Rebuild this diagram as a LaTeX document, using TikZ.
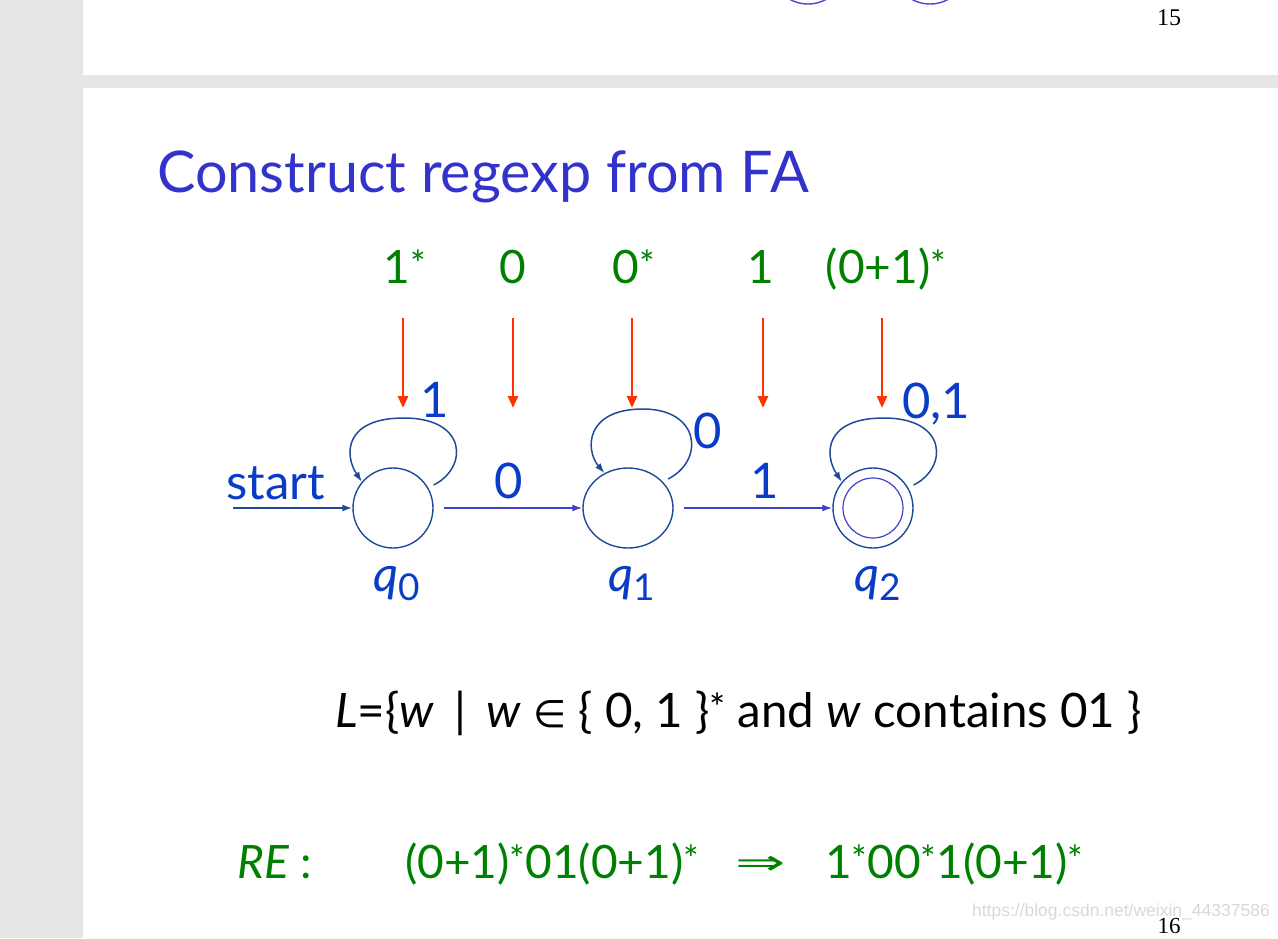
\documentclass[tikz,border=0pt]{standalone}
\usepackage{fontspec}
\setmainfont{Lato}
\newfontfamily\serifnum{Liberation Serif}
\newfontfamily\wmfont{Liberation Sans}
\newfontfamily\symfnt{DejaVu Sans}
\usetikzlibrary{arrows.meta,shapes.geometric}
\definecolor{pagegray}{HTML}{E6E6E6}
\definecolor{titleblue}{HTML}{3333CC}
\definecolor{lblblue}{HTML}{0A3CC8}
\definecolor{navy}{HTML}{1F4A9A}
\definecolor{transblue}{HTML}{4040C8}
\definecolor{regreen}{HTML}{008000}
\definecolor{arrred}{HTML}{FF3300}
\definecolor{wmgray}{HTML}{D8D8D8}
\newcommand{\sta}{\raisebox{0.12em}{\scalebox{0.8}{*}}}
\newcommand{\qsub}[1]{\textit{q}\raisebox{-0.2em}{\fontsize{37}{40}\selectfont #1}}
\tikzset{
  statebox/.style={draw=navy, line width=1.4pt, circle, minimum size=80pt, inner sep=0pt},
  innerbox/.style={draw=transblue, line width=1.2pt, circle, minimum size=60pt, inner sep=0pt},
  trans/.style={draw=transblue, line width=1.6pt, shorten <=10pt, -{Latex[length=10pt,width=7pt]}},
  startarr/.style={draw=navy, line width=1.8pt, -{Latex[length=10pt,width=7pt]}},
  selfloop/.style={draw=navy, line width=1.5pt, shorten <=6pt, -{Latex[length=10pt,width=7pt]}},
  redarr/.style={draw=arrred, line width=2.6pt, -{Triangle[length=12pt,width=10pt]}},
  lbl/.style={text=lblblue, font=\fontsize{49}{52}\selectfont, inner sep=0pt, anchor=base},
  grn/.style={text=regreen, font=\fontsize{46}{50}\selectfont, inner sep=0pt, anchor=base},
}
\begin{document}
\begin{tikzpicture}[x=1pt,y=-1pt]
\useasboundingbox (0,0) rectangle (1278,938);
\clip (0,0) rectangle (1278,938);
% page background
\fill[pagegray] (0,0) rectangle (83,938);
\fill[pagegray] (0,75) rectangle (1278,88);
% remnants of previous slide
\begin{scope}
\clip (83,0) rectangle (1278,75);
\draw[titleblue!90, line width=1.4pt] (808,-34) circle (38);
\draw[titleblue!90, line width=1.4pt] (930,-34) circle (38);
\end{scope}
\node[font=\serifnum\fontsize{24}{26}\selectfont, anchor=base, inner sep=0pt] (p15) at (1169,25) {15};
% title
\node[text=titleblue, font=\fontsize{57.5}{62}\selectfont, anchor=base west, inner sep=0pt] (title) at (157,192) {Construct regexp from FA};
% green labels
\node[grn] (g1) at (405,283) {1\sta};
\node[grn] (g2) at (513,283) {0};
\node[grn] (g3) at (634,283) {0\sta};
\node[grn] (g4) at (761,283) {1};
\node[grn] (g5) at (886,283) {(0+1)\sta};
% red arrows
\coordinate (r1s) at (403,318); \coordinate (r1e) at (403,408);
\coordinate (r2s) at (513,318); \coordinate (r2e) at (513,408);
\coordinate (r3s) at (632,318); \coordinate (r3e) at (632,408);
\coordinate (r4s) at (763,318); \coordinate (r4e) at (763,408);
\coordinate (r5s) at (882,318); \coordinate (r5e) at (882,408);
\draw[redarr] (r1s) -- (r1e);
\draw[redarr] (r2s) -- (r2e);
\draw[redarr] (r3s) -- (r3e);
\draw[redarr] (r4s) -- (r4e);
\draw[redarr] (r5s) -- (r5e);
% states
\node[statebox] (q0) at (393,508) {};
\node[statebox, ellipse, minimum width=90pt, minimum height=80pt] (q1) at (628,508) {};
\node[statebox] (q2) at (873,508) {};
\node[innerbox] (q2in) at (873,508) {};
% start
\coordinate (s) at (233,508);
\draw[startarr] (s) -- (q0);
\node[lbl, anchor=base west] (startlbl) at (226,499) {start};
% transitions
\draw[trans] (q0) -- (q1);
\draw[trans] (q1) -- (q2);
\node[lbl] (l01) at (509,498) {0};
\node[lbl] (l12) at (765,498) {1};
% self loops
\coordinate (t0) at (404,418);
\draw[selfloop] (q0.30) .. controls (468,468) and (468,418) .. (t0) .. controls (344,418) and (344,455) .. (q0.140);
\coordinate (t1) at (643,409);
\draw[selfloop] (q1.37) .. controls (705,460) and (700,409) .. (t1) .. controls (585,409) and (585,450) .. (q1.124);
\coordinate (t2) at (884,418);
\draw[selfloop] (q2.30) .. controls (948,468) and (948,418) .. (t2) .. controls (824,418) and (824,455) .. (q2.140);
\node[lbl] (l00) at (435,417) {1};
\node[lbl] (l11) at (708,448) {0};
\node[lbl] (l22) at (936,418) {0,1};
% state names
\node[lbl] (n0) at (397,591) {\qsub{0}};
\node[lbl] (n1) at (632,591) {\qsub{1}};
\node[lbl] (n2) at (878,591) {\qsub{2}};
% language
\node[font=\fontsize{47.5}{50}\selectfont, anchor=base west, inner sep=0pt] (lang) at (335,727)
  {\textit{L}=\{\textit{w}\, | \,\textit{w} {\symfnt\fontsize{38}{40}\selectfont ∈} \{ 0, 1 \}\sta{} and \textit{w} contains 01 \}};
% regular expressions
\node[grn, anchor=base west] (re) at (237,878) {\textit{RE} :};
\node[grn, anchor=base west] (re1) at (405,878) {(0+1)\sta{}01(0+1)\sta};
\node[grn, anchor=base west] (imp) at (735,874) {\scalebox{2}[1.15]{\symfnt\fontsize{30}{36}\selectfont ⇒}};
\node[grn, anchor=base west] (re2) at (825,878) {1\sta{}00\sta{}1(0+1)\sta};
% watermark and page number
\node[text=wmgray, font=\wmfont\fontsize{17.5}{19}\selectfont, anchor=base east, inner sep=0pt] (wm) at (1270,916) {https://blog.csdn.net/weixin\_44337586};
\node[font=\serifnum\fontsize{23}{26}\selectfont, anchor=base, inner sep=0pt] (p16) at (1169,933) {16};
\end{tikzpicture}
\end{document}
